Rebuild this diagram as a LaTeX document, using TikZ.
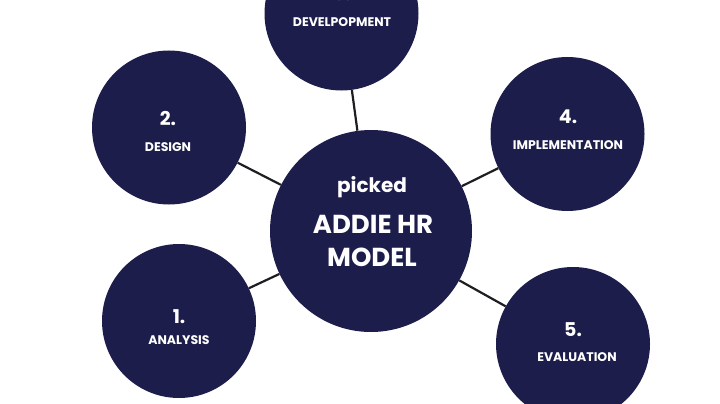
\documentclass[tikz,border=0pt]{standalone}
\usepackage{fontspec}
\setmainfont{Poppins}
\definecolor{navy}{RGB}{28,29,75}
\definecolor{wire}{RGB}{30,30,34}

\begin{document}
\begin{tikzpicture}[x=1pt, y=-1pt]
      \useasboundingbox (0,0) rectangle (720,404);
      \clip (0,0) rectangle (720,404);

      \node[circle, fill=navy, minimum size=202pt, inner sep=0pt] (M) at (371,231){};
      \foreach \x\y\z in {179/321/A,169/127.5/D,341.5/13.5/V,567.5/134/I,573/344/E} {
        \node[circle, fill=navy, minimum size=154pt, inner sep=0pt] (\z) at (\x,\y){};
      }

      \draw[wire, line width=2.2pt] (M) -- (A);
      \draw[wire, line width=2.2pt] (M) -- (D);
      \draw[wire, line width=2.2pt] (M) -- (V);
      \draw[wire, line width=2.2pt] (M) -- (I);
      \draw[wire, line width=2.2pt] (M) -- (E);

      \node[text=white, font=\bfseries\fontsize{20}{20}\selectfont] (picked) at (372,187){picked};
      \node[text=white, font=\bfseries\fontsize{26}{26}\selectfont] (title1) at (373,224){ADDIE HR};
      \node[text=white, font=\bfseries\fontsize{26}{26}\selectfont] (title2) at (372,257){MODEL};

      \foreach \x\y\z\n in {179/317/A/1.,168/118/D/2.,342/-7/V/3.,568/117/I/4.,573/330/E/5.} {
        \node[text=white, font=\bfseries\fontsize{19}{19}\selectfont] (n\z) at (\x,\y){\n};
      }
      \foreach \x\y\z\t in {179/340/A/ANALYSIS,168/147/D/DESIGN,342/22.5/V/DEVELPOPMENT,568/145/I/IMPLEMENTATION,577/357/E/EVALUATION} {
        \node[text=white, font=\bfseries\fontsize{12.5}{12.5}\selectfont] (l\z) at (\x,\y){\t};
      }
    \end{tikzpicture}
\end{document}
